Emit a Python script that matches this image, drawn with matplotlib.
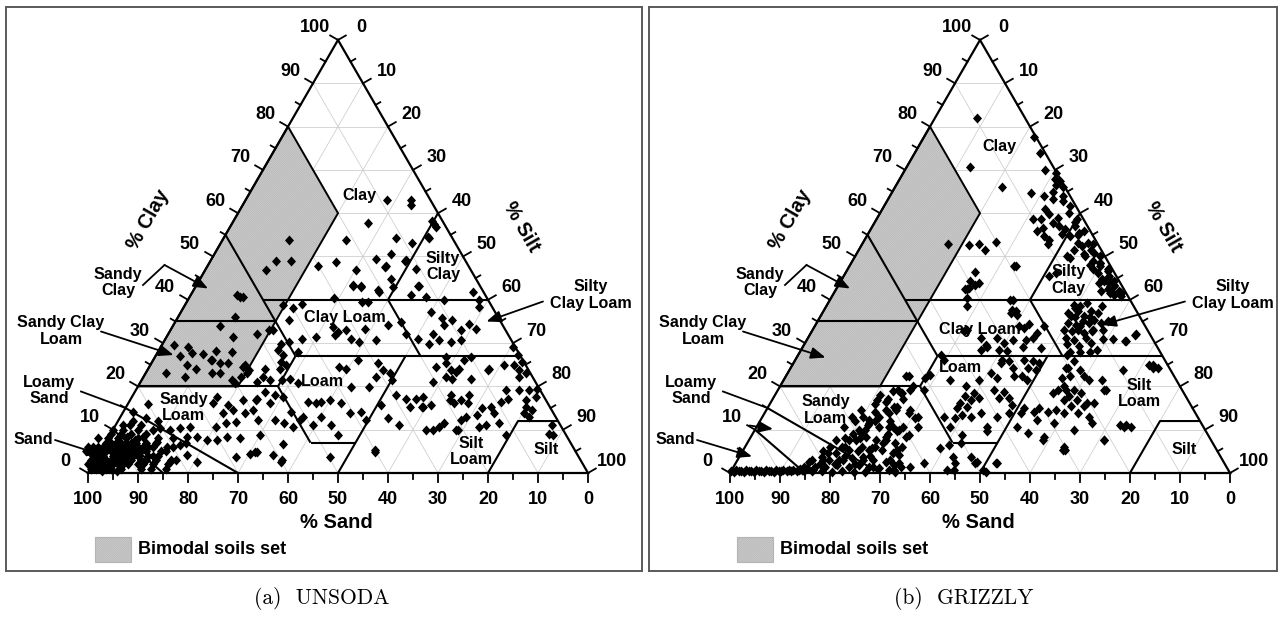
import numpy as np
import matplotlib
matplotlib.use("Agg")
import matplotlib.pyplot as plt
from matplotlib.patches import Polygon, Rectangle

plt.rcParams["font.family"] = ["Liberation Sans", "DejaVu Sans"]
plt.rcParams["font.weight"] = "bold"
plt.rcParams["hatch.linewidth"] = 0.5

H = np.sqrt(3) / 2

TICKS = list(range(0, 101, 10))
PANEL_TITLES = ["(a)  UNSODA", "(b)  GRIZZLY"]
LEGEND_TEXT = "Bimodal soils set"

# USDA class boundaries, polylines of (sand %, clay %)
USDA_LINES = [
    [(0, 60), (20, 40)],
    [(45, 40), (0, 40)],
    [(45, 55), (45, 27)],
    [(65, 35), (45, 35)],
    [(45, 27), (0, 27)],
    [(20, 40), (20, 27)],
    [(80, 20), (52, 20)],
    [(52, 20), (45, 27)],
    [(52, 20), (52, 7)],
    [(52, 7), (43, 7)],
    [(23, 27), (50, 0)],
    [(20, 0), (8, 12), (0, 12)],
    [(85, 15), (70, 0)],
    [(90, 10), (85, 0)],
]
# shaded "bimodal" region (sand %, clay %)
BIMODAL = [(20, 80), (20, 60), (60, 20), (80, 20)]

# measured soils, (sand %, clay %)
UNSODA = [
    (68, 29.5), (65.4, 29.1), (68.1, 27), (63.3, 27.4), (60.2, 28.2), (62.2, 26.2), (55.3, 31.4),
    (57.3, 28), (73, 23), (69.5, 22.2), (67.7, 24.9), (66.3, 24.1), (63.8, 23), (62.2, 23),
    (59.4, 25.3), (56.8, 24.5), (60.6, 21.4), (56.8, 23),
    (80, 15.9), (83.9, 14.1), (81.9, 12.8), (87.4, 11.1), (86, 11.1), (88.1, 8.4), (86.8, 7.6),
    (84.8, 8.4), (80.5, 10.3), (78.7, 9.9), (76.5, 10.3), (74.3, 10.7), (76.1, 8.4), (74.1, 8.4),
    (72.5, 7.6), (69, 10.7), (66.6, 11.5), (64.4, 11.8), (66.1, 13.8), (63.7, 14.5), (61.8, 13.8),
    (59.8, 14.5), (65.5, 17.6), (67, 16.1), (64.2, 15.7), (60.6, 16.8), (58, 16.8), (70.5, 7.6),
    (68.1, 8.4), (65.7, 8), (65.4, 4.5), (77, 2.6), (78.2, 4.1), (78.4, 6.5), (81.2, 6.1),
    (82.7, 7.2), (82.3, 2.6),
    (98, 1), (97, 2), (96, 1), (95, 3), (96, 4), (94, 2), (93, 1), (92, 3), (94, 5), (95, 6),
    (93, 4), (92, 6), (91, 2), (90, 4), (91, 7), (93, 7), (92, 8), (90, 8), (89, 5), (88, 3),
    (89, 9), (90, 10), (88, 7), (87, 5), (86, 2), (87, 9), (85, 6), (86, 8), (84, 4), (85, 3),
    (83, 7), (84, 9), (82, 5), (97, 4), (96, 6), (98, 3), (99, 1), (95, 1), (94, 8), (91, 5),
    (89, 1), (88, 10), (87, 1), (86, 4), (83, 2), (92, 5), (93, 3), (95, 5), (96, 2), (90, 6),
    (89, 7), (88, 5), (91, 9), (94, 0.5), (97, 0.5), (85, 10), (82, 8), (81, 3), (80, 6), (84, 1),
    (99, 2), (98, 5), (97, 6), (97, 3), (96, 3), (96, 5), (95, 2), (95, 4), (94, 3), (94, 6),
    (93, 2), (93, 5), (93, 6), (92, 2), (92, 4), (92, 7), (91, 3), (91, 4), (91, 6), (90, 3),
    (90, 5), (90, 7), (89, 2), (89, 4), (89, 6), (88, 2), (88, 4), (88, 6), (87, 3), (87, 6),
    (87, 7), (86, 5), (86, 6), (85, 4), (85, 7), (84, 6), (83, 5), (82, 3), (98, 2), (97, 1),
    (85, 12), (84, 11), (82, 10), (80, 12), (79, 8), (77, 7),
    (25.4, 43.3), (23.8, 43.1), (21, 42.2), (17.6, 42.9), (12.4, 43.3), (14.9, 41), (25.4, 39.5),
    (24.3, 39.5), (41.7, 38.7), (40.1, 38), (37.8, 39), (42.1, 35.4), (46.6, 33), (41.8, 31),
    (38.7, 31.3), (34.2, 33.7), (34.8, 31.8), (33.7, 32.6), (31.9, 33), (28, 33.3), (31.9, 31),
    (30.6, 30.3), (27, 30.8), (23, 34.1), (20, 34.9), (20.3, 32.2), (18.6, 31), (44.6, 30.3),
    (44, 28), (46.4, 29.9), (47.8, 28.3), (47.4, 27.2), (48.5, 25.7), (47.9, 24.9), (49.6, 24.1),
    (52.6, 24.1), (53.9, 22.2), (53, 21.4), (55.8, 21), (50.6, 21.4), (48.8, 21.8), (47.7, 20.7),
    (55.3, 18.7), (53.7, 18), (52.2, 17.6), (57.7, 17.2), (55.6, 16.1), (59.9, 12.2), (56.6, 12.2),
    (55, 11.5), (53.7, 10.7), (51.6, 12.2), (61.3, 8.8), (57.6, 6.8), (61, 4.1), (59.8, 3),
    (64.2, 4.9), (47.8, 16.4), (37.5, 24.5), (36.4, 24.1), (33, 26), (37.4, 19.9), (46.4, 16.1),
    (45.2, 16.4), (43.3, 16.8), (41.3, 16.1), (46.9, 13), (45.9, 11.1), (40.8, 13.8), (45.6, 8.8),
    (38.3, 14.1), (38.3, 12.2), (29.4, 25.3), (31.3, 22.2), (29.2, 23.7), (28.2, 23), (33.8, 19.9),
    (28.4, 21.4), (29.4, 18), (33.6, 15.7), (33.8, 12.6), (32.2, 11.1), (40, 5.3), (27.8, 17.2),
    (25.8, 17.2), (25.4, 15.3), (28, 15.3), (49.5, 11.1), (50.5, 13), (52.3, 14.1),
    (2.2, 41.8), (12.1, 40.6), (8.8, 39.9), (1.8, 39.9), (2.6, 38.3), (12.8, 37.2), (11.3, 35.7),
    (9.5, 35.3), (11.7, 34.1), (8.9, 33), (6.5, 34.5), (5.8, 33.3), (15, 32.2), (14.4, 30.7),
    (12.3, 30.3), (10, 30.7), (16.8, 29.9), (18.2, 24.5), (15.8, 25.3), (15.5, 23.7), (17.3, 22.2),
    (14.7, 23.3), (13.7, 24.1), (16.2, 21.8), (12.5, 21.8), (7.7, 24.1), (11.8, 26), (20.6, 21),
    (4.3, 24.9), (2.3, 24.9), (2, 23.7), (0.9, 23), (0.5, 27.2), (0.4, 29.1), (24.3, 17.6),
    (25.5, 15.3), (23.6, 15.7), (18.4, 18), (19.3, 16.8), (18.7, 16.1), (17, 16.8), (14.8, 18),
    (16, 16.1), (13.7, 14.9), (11.8, 15.3), (9.2, 16.4), (7.5, 17.2), (6.9, 19.1), (11.9, 13.8),
    (15.4, 13.4), (17.9, 13), (19.3, 12.2), (16.4, 10.7), (14.9, 11.1), (12, 11.5), (23, 11.5),
    (24.4, 10.7), (26.1, 9.9), (27.5, 9.9), (21.1, 9.9), (12, 8.8), (4, 16.8), (4.8, 15.3),
    (5.9, 13.8), (3.9, 14.5), (1.6, 17.6), (0.4, 19.5), (2.2, 19.1), (4.2, 19.1), (2.7, 22.2),
    (1.6, 11.1), (3.2, 9.1), (2.7, 8.8), (5.3, 13), (8.2, 23.7), (10, 26.8), (15, 26.8), (0.3, 25.7),
    (8.7, 63.1), (3.9, 63.1), (4.5, 61.8), (15.2, 57.7), (21.4, 53.9), (11.3, 54.3), (8.6, 53.2),
    (2, 57.5), (2, 56.8), (4.7, 54.3), (32.9, 53.9), (37.9, 48.9), (35, 48.9), (40.9, 46.9),
    (30, 47.9), (26, 48.7), (23.1, 46.8), (17.7, 49.4), (14.2, 50.6), (16.6, 47.7), (12.1, 48.9),
    (17, 44.9), (25.2, 43.5), (24, 42.9), (21, 41.8), (10.9, 47.2), (12.2, 43.3), (48.7, 40.6),
    (49.4, 40.6), (2, 58.3), (4.8, 54.5), (16.9, 47.5), (11.8, 49.1), (30.6, 40.4), (49.8, 41),
    (52.7, 36), (56.7, 34), (50.2, 32.2), (47.4, 33), (56.2, 24.9), (56, 23.7), (58.4, 22.2),
    (60.3, 20.7), (65.4, 27.7), (62.2, 26), (61, 25.3), (68.4, 3.8), (49.7, 3.8), (40.2, 4.9),
    (21.4, 9.9), (63.8, 4.9), (60.1, 2.6),
]

GRIZZLY = [
    (99.5, 0.5), (99, 0.3), (98.5, 0.6), (98, 0.4), (97.5, 0.5), (97, 0.3), (96.5, 0.6), (96, 0.4),
    (95.5, 0.5), (95, 0.3), (94.5, 0.6), (94, 0.4), (93.5, 0.5), (93, 0.3), (92.5, 0.6), (92, 0.4),
    (91.5, 0.5), (91, 0.3), (90.5, 0.6), (90, 0.4), (89.5, 0.5), (89, 0.7), (88.5, 0.4), (88, 0.6),
    (87.5, 0.5), (87, 0.8), (86.5, 0.4), (86, 0.6), (85.5, 1.0), (85, 0.5), (84, 1.2), (83, 0.8),
    (60.6, 16.5), (59.6, 14.6), (61.3, 13.8), (63.7, 13), (67, 13), (66.5, 11.5), (69.2, 10),
    (64.9, 10.7), (62.9, 10.7), (61.2, 10), (72.4, 7.7), (71, 7.7), (68.7, 8.4), (67, 7.7),
    (64.7, 8.4), (63.5, 6.9), (74.5, 6.1), (73.6, 5.3), (70.5, 6.1), (68.7, 5.7), (66.9, 5.3),
    (65.2, 4.6), (76.6, 4.6), (79.7, 3.8), (78.7, 3), (76.7, 3), (73.9, 3.4), (71.6, 3.8), (70, 3),
    (67.6, 2.6), (65.1, 2.2), (82.9, 2.6), (82.2, 1.5), (80.2, 1.5), (77.6, 1.9), (75.5, 1.5),
    (73.3, 1.9), (71.5, 1.5), (69.7, 1.1), (67.9, 0.7), (85.3, 0.7), (83.4, 0.4), (81.4, 0.4),
    (79.6, 0.2), (77.4, 0.4), (75.2, 0.2), (72.9, 0.2), (66.9, 0.2),
    (75, 4), (74, 6), (72, 5), (71, 9), (70, 8), (68, 10), (67, 11), (65, 12), (64, 14), (63, 16),
    (61, 18), (60, 17), (58, 19), (57, 17), (62, 12), (64, 9), (66, 7), (68, 6), (70, 4), (72, 3),
    (74, 2), (76, 3), (78, 2), (80, 3), (81, 2), (79, 5), (77, 6), (73, 8), (69, 12),
    (56.5, 18.4), (54.5, 19.2), (61.6, 14.6), (59.6, 15.3), (56.8, 14.6), (55.9, 13), (62, 10.7),
    (60.7, 8.4), (65.1, 7.6), (63.9, 5.3), (66.6, 3), (70.7, 1.5), (66.9, 0.7), (65, 1.5),
    (63.3, 1.5), (69.6, 5.3), (69.3, 9.2), (69.1, 13), (66, 12.3), (62.2, 16.9), (56.9, 19.2),
    (53.7, 22.3), (53.4, 20), (66.6, 14.6), (71.9, 10.7), (75, 7.6), (78.1, 4.6), (80.5, 1.5),
    (82.2, 3), (84.5, 1.5), (53.9, 2.2), (56.3, 0.7), (54.8, 0.7), (49.9, 2.2), (49, 0.7),
    (45.8, 2.2), (53.6, 3.8), (49.9, 3.8),
    (28.3, 43.8), (30.8, 42.8), (32.4, 40.4), (33.3, 38.5), (23.5, 40), (25.4, 37), (24.2, 37.3),
    (24.4, 36.6), (25.3, 33.9), (24.5, 33.5), (23.1, 34.3), (23.9, 31.2), (25.5, 30.8), (26.9, 29.2),
    (22.4, 32.3), (20.3, 33.9), (23.4, 28.9), (30.2, 30), (30.5, 28.1), (32, 28.5), (34.1, 29.6),
    (35.6, 28.5), (36, 33.1), (36.9, 32.7), (34.3, 31.2), (34, 29.2), (32.5, 26.2), (33.2, 25.4),
    (31.3, 25.8), (31.4, 24.2), (32.1, 22.3), (28.1, 26.2), (28.4, 24.2), (26.6, 25.8), (27, 23.8),
    (25.5, 25.4), (29.8, 21.5), (30.4, 22.3), (35.6, 21.9), (36.3, 23.1), (39.5, 21.5), (45.2, 21.5),
    (42.9, 20), (42, 18.4), (41.5, 17.3), (43.4, 16.9), (44.1, 17.7), (45.9, 16.1), (44.9, 15.3),
    (47.1, 15), (46.9, 13.4), (45.4, 13), (43, 13.8), (48.6, 12.7), (50.8, 13), (50.6, 10.7),
    (49.2, 8.8), (50.4, 6.9), (49.3, 2.6), (45.5, 2.2), (48.7, 0.3), (43.8, 9.6), (43.2, 10.7),
    (37.6, 19.2), (37.5, 17.3), (35.8, 18.8), (35.6, 17.3), (35.7, 15.7), (37.3, 13.8), (40.1, 13),
    (35, 13.8), (37.2, 10.7), (35.9, 9.2), (33, 8.4), (33.7, 15), (32.1, 14.2), (30.7, 15),
    (29.4, 14.2), (27.6, 14.6), (29.5, 11.5), (30.2, 6.1), (32.4, 12.3), (26.3, 18.4), (24.9, 19.2),
    (23.3, 19.2), (24.8, 16.9), (20.4, 24.2), (22.6, 21.9), (18.9, 27.3), (44.2, 27.3), (44.2, 26.2),
    (50, 21.9), (48.6, 22.7), (53.1, 22.3), (56.7, 18.4), (58.9, 15.3), (57.4, 13.8), (56.6, 12.7),
    (57, 10.7), (60, 10.7), (61.8, 9.6), (59.9, 8.8), (62.5, 6.1), (64.2, 4.2), (66.3, 1.9),
    (60.2, 2.2), (55.1, 5.7), (53, 6.5), (51.7, 19.2), (31, 31.2), (28.1, 30.8),
    (2.2, 43.9), (1.7, 43.1), (1, 41.6), (2.6, 41.2), (3.3, 42.4), (4.8, 42), (11.8, 38.9),
    (10.7, 38.5), (8.9, 39.3), (11.8, 37.4), (9.1, 37.4), (8, 37), (13.8, 36.2), (11.1, 36.2),
    (9.5, 35.4), (15.2, 34.6), (13.8, 34.2), (13, 33.9), (10.9, 34.6), (8.5, 34.6), (16.7, 33.1),
    (15.2, 32.7), (13.1, 32.3), (11.2, 32.7), (17.3, 31.2), (15.8, 30.8), (13.3, 31.2), (17.7, 29.7),
    (15.6, 29.3), (12.8, 30.1), (12.3, 28.5), (5.6, 30.5), (2.8, 32), (1.4, 40.8), (6.3, 38.5),
    (10, 36), (12, 35), (14, 33), (9, 33), (7, 35), (12, 38), (14, 37), (10, 31), (8, 31), (16, 28),
    (14, 28), (18, 28), (13, 36), (11, 33),
    (18.3, 25.8), (20.8, 24.2), (18, 23.9), (20.8, 22.3), (18.1, 22.3), (17.5, 21.5), (14.8, 21.5),
    (15.3, 19.2), (3, 25), (2.4, 24.2), (23.2, 20), (21.6, 19.2), (20.7, 18.4), (23.4, 17.7),
    (22.1, 16.9), (20.5, 16.1), (19.2, 16.1), (24.2, 15.4), (21.5, 15.4), (26.3, 13.8), (23.6, 13.8),
    (21.7, 13), (21.8, 11.5), (26.3, 9.9), (30.3, 5.3), (21.4, 7.6), (15.8, 10.7), (14.5, 10.7),
    (9.6, 81.9), (0.3, 77.7), (1.1, 73.8), (16.6, 70.7), (0.3, 69.2), (12.6, 66), (7.4, 64.7),
    (5.3, 64), (3.9, 63.2), (1.7, 66.4), (0.3, 67.4), (0.3, 66.1),
    (1.5, 64), (2, 62.8), (1.2, 61.7), (2.2, 60.1), (1.4, 58.6), (2.5, 57), (1.3, 55.9), (2, 51.6),
    (1, 50.1), (2.2, 47.8), (1.5, 45.5), (2.5, 43.1),
    (2, 70), (1, 68), (3, 65), (2, 58), (3, 55), (1, 53), (4, 47), (2, 45), (3, 49), (1, 47),
    (6.5, 60.9), (6.4, 59.7), (5, 59), (6.6, 57.8), (5.7, 57), (4.8, 56.3), (6, 55.1), (8.6, 58.6),
    (10.6, 55.9), (9.9, 54.7), (10.1, 52.8), (4.6, 54.7), (2.5, 55.5), (3.9, 53.2), (1.9, 53.2),
    (5.4, 51.6), (4, 50.5), (7.1, 49.7), (1.8, 50.9), (1.7, 48.5), (3.9, 48.1), (3.4, 46.2),
    (1.2, 46.6), (3.1, 44.3), (1.1, 44.3), (2.8, 42), (1.2, 42), (4.3, 43.9), (11.8, 46.2),
    (30, 52.9), (25.8, 52.7), (23.8, 52.8), (23.3, 51.6), (20.2, 53.3), (18.8, 47.9), (27.8, 46.4),
    (29.8, 44.3), (31.4, 42.4), (10.2, 58.6), (9.2, 56.6), (9.3, 53.9),
    (13.6, 45.4), (7.6, 50.1), (3.5, 52.4), (3.9, 50.1), (1.8, 48.5), (3.3, 44.7), (1.4, 43.5),
    (3.2, 41.6), (1.1, 41.6), (31.8, 42.4), (29.3, 43.5), (24, 40), (24.8, 37.7), (19.4, 47.8),
    (33.7, 7.6), (30.8, 5.3), (21.4, 7.6), (16.4, 11.1), (15.2, 11.1), (3.7, 25), (3.3, 24.2),
    (3.1, 31.9), (5.9, 30.4), (9.6, 23.8), (15.6, 19.2),
]

# layout of each panel, in triangle units (1 unit = 5 px)
LAYOUT = [
    {
        "box": (6, 642), "origin": 88,
        "classes": [("Clay", 54.2, 55.6), ("Silty\nClay", 71, 41.3), ("Clay Loam", 51.3, 31.1),
                    ("Loam", 46.9, 18.3), ("Sandy\nLoam", 19.1, 13.1), ("Silt\nLoam", 76.7, 4.3),
                    ("Silt", 91.7, 4.6)],
        "scl_end": (17.1, 23.6), "sand_end": (2.8, 3.6),
        "silty_cl_end": (79.7, 30.3),
        "loamy_arrow": None,
    },
    {
        "box": (649, 1277), "origin": 730,
        "classes": [("Clay", 53.9, 65.3), ("Silty\nClay", 67.7, 38.6), ("Clay Loam", 50, 28.7),
                    ("Loam", 46, 21.1), ("Sandy\nLoam", 19.1, 12.6), ("Silt\nLoam", 81.8, 15.9),
                    ("Silt", 90.8, 4.6)],
        "scl_end": (19.1, 23.1), "sand_end": (4.4, 3.3),
        "silty_cl_end": (74.3, 29.6),
        "loamy_arrow": ((3.9, 9.5), (8.6, 8.8)),
    },
]


def to_xy(sand, clay):
    sand = np.asarray(sand, float)
    clay = np.asarray(clay, float)
    return 100 - sand - clay / 2, clay * H


def arrow(ax, start, end):
    ax.annotate("", xy=end, xytext=start, zorder=7,
                arrowprops=dict(arrowstyle="-|>,head_length=0.55,head_width=0.22",
                                color="k", lw=1.3, shrinkA=0, shrinkB=0, mutation_scale=16))


def draw_panel(ax, points, lay):
    ax.set_xticks([])
    ax.set_yticks([])
    for sp in ax.spines.values():
        sp.set_color("#5a5a5a")
        sp.set_linewidth(1.4)

    # light grid
    for k in range(10, 100, 10):
        for a, b in [((100 - k, k), (0, k)), ((k, 0), (k, 100 - k)), ((100 - k, 0), (0, 100 - k))]:
            x, y = to_xy([a[0], b[0]], [a[1], b[1]])
            ax.plot(x, y, color="#cccccc", lw=0.55, zorder=1)

    # bimodal region
    bx, by = to_xy([p[0] for p in BIMODAL], [p[1] for p in BIMODAL])
    ax.add_patch(Polygon(np.c_[bx, by], closed=True, facecolor="#d2d2d2", edgecolor="#b4b4b4",
                         hatch="/" * 18, lw=0, zorder=1.5))
    ax.add_patch(Polygon(np.c_[bx, by], closed=True, fill=False, edgecolor="k", lw=1.4, zorder=3))

    # class boundaries
    for line in USDA_LINES:
        x, y = to_xy([p[0] for p in line], [p[1] for p in line])
        ax.plot(x, y, color="k", lw=1.5, zorder=3, solid_capstyle="butt")

    # triangle
    ax.plot([0, 100, 50, 0], [0, 0, 100 * H, 0], color="k", lw=1.6, zorder=3,
            solid_joinstyle="miter")

    # ticks and tick labels
    nl = np.array([-H, 0.5])
    nr = np.array([H, 0.5])
    for v in range(0, 101, 5):
        ln = 1.8 if v % 10 == 0 else 1.1
        ax.plot([100 - v, 100 - v], [0, -ln], color="k", lw=1.3, zorder=3)
        p = np.array([v / 2, v * H])
        ax.plot([p[0], p[0] + nl[0] * ln], [p[1], p[1] + nl[1] * ln], color="k", lw=1.3, zorder=3)
        q = np.array([50 + v / 2, (100 - v) * H])
        ax.plot([q[0], q[0] + nr[0] * ln], [q[1], q[1] + nr[1] * ln], color="k", lw=1.3, zorder=3)
    for v in TICKS:
        ax.text(100 - v, -5.4, str(v), ha="center", va="center", fontsize=13)
        ax.text(v / 2 - 4.6, v * H + 2.4, str(v), ha="center", va="center", fontsize=13)
        ax.text(50 + v / 2 + 4.7, (100 - v) * H + 2.4, str(v), ha="center", va="center", fontsize=13)

    # axis titles
    ax.text(12.0, 50.6, "% Clay", rotation=60, ha="center", va="center", fontsize=14.5)
    ax.text(86.7, 49.2, "% Silt", rotation=-60, ha="center", va="center", fontsize=14.5)
    ax.text(49.6, -9.8, "% Sand", ha="center", va="center", fontsize=14.5)

    # data
    x, y = to_xy([p[0] for p in points], [p[1] for p in points])
    diamond = [(0, 1), (0.9, 0), (0, -1), (-0.9, 0), (0, 1)]
    ax.scatter(x, y, marker=diamond, s=52, c="k", linewidths=0, zorder=4)

    # class names
    for name, u, v in lay["classes"]:
        ax.text(u, v, name, ha="center", va="center", fontsize=11.6, linespacing=1.12, zorder=6)

    # outside names with pointers
    fs = 11.6
    ax.text(6.0, 38.1, "Sandy\nClay", ha="center", va="center", fontsize=fs, linespacing=1.12)
    ax.plot([11.0, 15.3], [37.6, 41.6], color="k", lw=1.3, zorder=7)
    arrow(ax, (15.3, 41.6), (24.0, 36.9))

    ax.text(-5.4, 28.4, "Sandy Clay\nLoam", ha="center", va="center", fontsize=fs, linespacing=1.12)
    arrow(ax, (2.6, 28.3), lay["scl_end"])

    ax.text(-10.9, 6.6, "Sand", ha="center", va="center", fontsize=fs)
    arrow(ax, (-6.6, 6.6), lay["sand_end"])

    ax.text(-7.8, 16.5, "Loamy\nSand", ha="center", va="center", fontsize=fs, linespacing=1.12)
    ax.plot([-1.4, 7.5], [16.3, 13.0], color="k", lw=1.3, zorder=7)
    if lay["loamy_arrow"] is not None:
        arrow(ax, *lay["loamy_arrow"])

    ax.text(100.5, 35.6, "Silty\nClay Loam", ha="center", va="center", fontsize=fs, linespacing=1.12)
    arrow(ax, (91.0, 34.3), lay["silty_cl_end"])

    # legend
    ax.add_patch(Rectangle((1.4, -17.8), 7.2, 5.0, facecolor="#d2d2d2", edgecolor="#b4b4b4",
                           hatch="/" * 18, lw=0.8))
    ax.text(9.9, -15.3, LEGEND_TEXT, ha="left", va="center", fontsize=13)


fig = plt.figure(figsize=(12.83, 6.17), dpi=100)
W, HT = 1283, 617
top_px, bot_px, base_px = 7, 571, 473
for pts, lay, title, cx in zip([UNSODA, GRIZZLY], LAYOUT, PANEL_TITLES, [322, 964]):
    l, r = lay["box"]
    ax = fig.add_axes([l / W, 1 - bot_px / HT, (r - l) / W, (bot_px - top_px) / HT])
    ax.set_xlim((l - lay["origin"]) / 5, (r - lay["origin"]) / 5)
    ax.set_ylim((base_px - bot_px) / 5, (base_px - top_px) / 5)
    draw_panel(ax, pts, lay)
    fig.text(cx / W, 1 - 598 / HT, title, ha="center", va="center", fontsize=15.5,
             family="cmr10", weight="normal")

fig.savefig("out.png", dpi=100)
